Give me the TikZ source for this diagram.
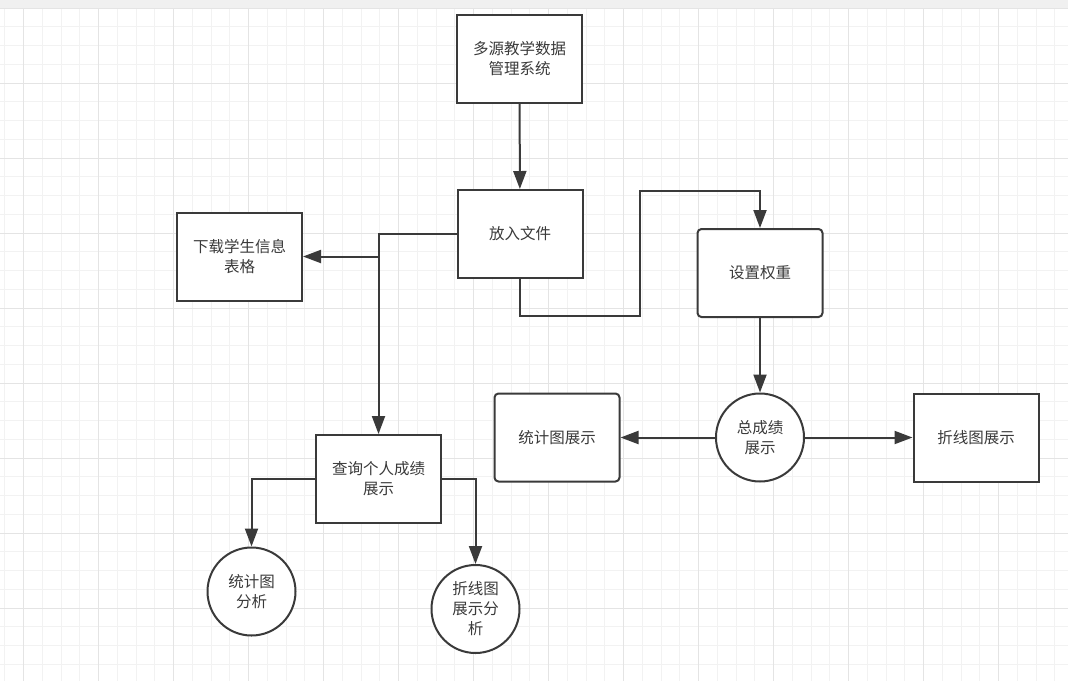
\documentclass[tikz,border=0pt]{standalone}
\usepackage{fontspec}
\setmainfont{Noto Sans CJK SC}
\usepackage{tikz}
\usetikzlibrary{arrows.meta}
\definecolor{inkgray}{RGB}{58,58,58}
\definecolor{gridminor}{RGB}{242,242,242}
\definecolor{gridmajor}{RGB}{228,228,228}
\definecolor{bandgray}{RGB}{240,240,240}

\begin{document}
\begin{tikzpicture}[x=1pt, y=-1pt,
    font=\fontsize{15.5pt}{20pt}\selectfont,
    box/.style={draw=inkgray, line width=2pt, fill=white, text=inkgray,
      minimum width=125pt, minimum height=88pt, align=center, inner sep=2pt},
    softbox/.style={box, rounded corners=4pt},
    disc/.style={draw=inkgray, line width=2pt, fill=white, text=inkgray,
      circle, minimum size=88pt, inner sep=0pt, align=center},
    link/.style={draw=inkgray, line width=2pt},
    arrow/.style={link, -{Triangle[length=18pt, width=13pt]}}]
  \useasboundingbox (0,0) rectangle (1068,681);
  % background grid
  \fill[white] (0,0) rectangle (1068,681);
  \fill[bandgray] (0,0) rectangle (1068,8);
  \foreach \x in {4.75,23.5,...,1068} \draw[gridminor, line width=1pt] (\x,8) -- (\x,681);
  \foreach \y in {26.75,45.5,...,681} \draw[gridminor, line width=1pt] (0,\y) -- (1068,\y);
  \foreach \x in {23.5,98.5,...,1068} \draw[gridmajor, line width=1pt] (\x,8) -- (\x,681);
  \foreach \y in {8,83,...,681} \draw[gridmajor, line width=1pt] (0,\y) -- (1068,\y);
  % nodes
  \node[box] (sys) at (519.5,59) {多源教学数据\\管理系统};
  \node[box] (putfile) at (520,234) {放入文件};
  \node[box] (download) at (239.5,256.5) {下载学生信息\\表格};
  \node[softbox] (weight) at (760,273) {设置权重};
  \node[disc] (total) at (760,437.5) {总成绩\\展示};
  \node[softbox] (statshow) at (557,437.5) {统计图展示};
  \node[box] (lineshow) at (976,437.5) {折线图展示};
  \node[box] (query) at (378.5,479) {查询个人成绩\\展示};
  \node[disc] (statana) at (251.5,591.5) {统计图\\分析};
  \node[disc] (lineana) at (475.5,609) {折线图\\展示分\\析};
  % connectors
  \coordinate (split) at (query.north |- download.east);
  \coordinate (bend) at (640,191);
  \draw[arrow] (sys) -- (putfile);
  \draw[arrow] (putfile.west) -| (query.north);
  \draw[arrow] (split) -- (download.east);
  \draw[arrow] (putfile.south) -- ++(0,37) -| (bend) -| (weight.north);
  \draw[arrow] (weight) -- (total);
  \draw[arrow] (total) -- (statshow);
  \draw[arrow] (total) -- (lineshow);
  \draw[arrow] (query.west) -| (statana.north);
  \draw[arrow] (query.east) -| (lineana.north);
\end{tikzpicture}
\end{document}
